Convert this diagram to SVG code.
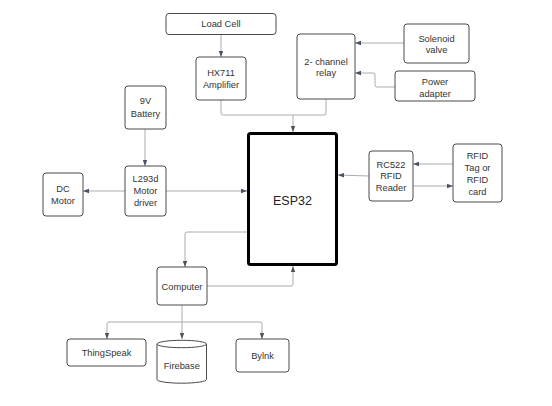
<svg xmlns="http://www.w3.org/2000/svg" width="552" height="406" viewBox="0 0 552 406">
<style>
.box{fill:#fff;stroke:#4a4a4a;stroke-width:1}
.t{font-family:"Liberation Sans",Arial,sans-serif;font-size:9.3px;fill:#333;text-anchor:middle}
.c{fill:none;stroke:#a8acb0;stroke-width:1}
</style>
<defs>
<marker id="a" markerUnits="userSpaceOnUse" markerWidth="6" markerHeight="6" viewBox="0 0 6 6" refX="6" refY="3" orient="auto">
<path d="M0,0.8 L6,3 L0,5.2 Z" fill="#4a5260"/>
</marker>
</defs>
<rect width="552" height="406" fill="#fff"/>
<g id="connectors">
<path class="c" d="M221,34 V57" marker-end="url(#a)"/>
<path class="c" d="M221,100 V113 Q221,115 223,115 H293 V132" marker-end="url(#a)"/>
<path class="c" d="M326,99 V113 Q326,115 324,115 H293"/>
<path class="c" d="M404,43 H355" marker-end="url(#a)"/>
<path class="c" d="M395,87 H377 Q375,87 375,85 V75 Q375,73 373,73 H355" marker-end="url(#a)"/>
<path class="c" d="M145,129 V166" marker-end="url(#a)"/>
<path class="c" d="M125,191 H83" marker-end="url(#a)"/>
<path class="c" d="M166,191 H247" marker-end="url(#a)"/>
<path class="c" d="M369,176 L338,175" marker-end="url(#a)"/>
<path class="c" d="M453,164 H413" marker-end="url(#a)"/>
<path class="c" d="M413,186 H453" marker-end="url(#a)"/>
<path class="c" d="M247,232 H187 Q185,232 185,234 V267" marker-end="url(#a)"/>
<path class="c" d="M207,286 H291 Q293,286 293,284 V266" marker-end="url(#a)"/>
<path class="c" d="M182,305 V339" marker-end="url(#a)"/>
<path class="c" d="M109,322 H260"/>
<path class="c" d="M109,322 Q107,322 107,324 V339" marker-end="url(#a)"/>
<path class="c" d="M260,322 Q262,322 262,324 V339" marker-end="url(#a)"/>
</g>
<g id="loadcell"><rect class="box" x="166" y="13.5" width="110" height="21" rx="3"/><text class="t" x="221" y="27">Load Cell</text></g>
<g id="hx711"><rect class="box" x="196" y="57" width="50" height="43" rx="3"/><text class="t" x="221" y="76">HX711</text><text class="t" x="221" y="87.5">Amplifier</text></g>
<g id="relay"><rect class="box" x="297" y="34" width="58" height="65" rx="3"/><text class="t" x="326" y="65">2- channel</text><text class="t" x="326" y="76">relay</text></g>
<g id="solenoid"><rect class="box" x="404" y="24" width="65" height="39" rx="3"/><text class="t" x="436.5" y="41.5">Solenoid</text><text class="t" x="436.5" y="53.3">valve</text></g>
<g id="power"><rect class="box" x="395" y="71" width="80" height="30" rx="3"/><text class="t" x="435" y="85">Power</text><text class="t" x="435" y="97.3">adapter</text></g>
<g id="battery"><rect class="box" x="125" y="86" width="41" height="43" rx="3"/><text class="t" x="145.5" y="104">9V</text><text class="t" x="145.5" y="116.5">Battery</text></g>
<g id="l293d"><rect class="box" x="125" y="166" width="41" height="50" rx="3"/><text class="t" x="145.5" y="182.3">L293d</text><text class="t" x="145.5" y="194.3">Motor</text><text class="t" x="145.5" y="206.3">driver</text></g>
<g id="dcmotor"><rect class="box" x="43" y="173" width="40" height="43" rx="3"/><text class="t" x="63" y="192.3">DC</text><text class="t" x="63" y="203.5">Motor</text></g>
<g id="esp32"><rect x="248.5" y="133.5" width="88" height="131" rx="2" fill="#fff" stroke="#000" stroke-width="3"/><text class="t" x="292.5" y="205" style="font-size:12.5px;fill:#222">ESP32</text></g>
<g id="rc522"><rect class="box" x="369" y="151" width="44" height="50" rx="3"/><text class="t" x="391" y="167.6">RC522</text><text class="t" x="391" y="179">RFID</text><text class="t" x="391" y="191">Reader</text></g>
<g id="rfid"><rect class="box" x="453" y="144" width="49" height="58" rx="3"/><text class="t" x="477.5" y="159.3">RFID</text><text class="t" x="477.5" y="171">Tag or</text><text class="t" x="477.5" y="183">RFID</text><text class="t" x="477.5" y="194.6">card</text></g>
<g id="computer"><rect class="box" x="157" y="267" width="50" height="38" rx="3"/><text class="t" x="182" y="289.6">Computer</text></g>
<g id="thingspeak"><rect class="box" x="67" y="339" width="79" height="27" rx="3"/><text class="t" x="106.5" y="356.3">ThingSpeak</text></g>
<g id="firebase"><path class="box" d="M157,344 A24.75,3.7 0 0 1 206.5,344 V379.5 A24.75,3.7 0 0 1 157,379.5 Z"/><path class="box" d="M157,344 A24.75,3.7 0 0 0 206.5,344" fill="none"/><text class="t" x="181.75" y="369">Firebase</text></g>
<g id="bylnk"><rect class="box" x="236" y="339" width="53" height="33" rx="3"/><text class="t" x="262.5" y="359">Bylnk</text></g>
</svg>
